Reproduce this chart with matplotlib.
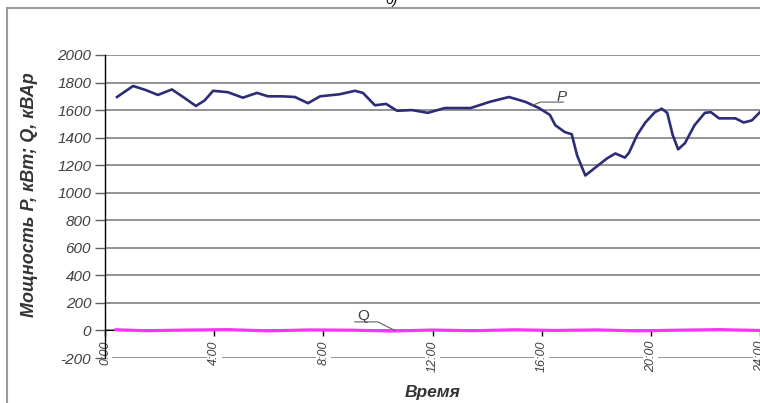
#!/usr/bin/env python3
"""Daily load curve P / Q (Excel-style scan)."""
import matplotlib
matplotlib.use('Agg')
import matplotlib.pyplot as plt
from matplotlib.patches import Rectangle

# --- data (hours, kW / kVAr) ---------------------------------------------
p_time = [0.44, 1.03, 1.5, 1.94, 2.45, 2.9, 3.33, 3.65, 3.96, 4.5, 5.05, 5.57,
          5.97, 6.5, 6.96, 7.44, 7.88, 8.6, 9.16, 9.45, 9.89, 10.3, 10.7, 11.25,
          11.83, 12.45, 13.4, 14.1, 14.8, 15.4, 15.9, 16.3, 16.5, 16.85, 17.1,
          17.3, 17.6, 17.95, 18.4, 18.7, 19.05, 19.2, 19.5, 19.8, 20.15, 20.4,
          20.6, 20.8, 21.0, 21.25, 21.6, 21.98, 22.2, 22.5, 23.1, 23.4, 23.7, 24.0]
p_val = [1695, 1775, 1745, 1710, 1750, 1690, 1630, 1670, 1740, 1730, 1690, 1725,
         1700, 1700, 1695, 1650, 1700, 1715, 1740, 1725, 1635, 1645, 1595, 1600,
         1580, 1615, 1615, 1660, 1695, 1660, 1615, 1565, 1490, 1440, 1425,
         1270, 1125, 1180, 1250, 1285, 1255, 1290, 1420, 1510, 1585, 1610,
         1580, 1420, 1315, 1360, 1490, 1580, 1585, 1540, 1540, 1510, 1525, 1585]

q_time = [0.4, 1.5, 3.0, 4.5, 6.0, 7.5, 9.0, 10.5, 12.0, 13.5, 15.0, 16.5,
          18.0, 19.5, 21.0, 22.5, 24.0]
q_val = [5, -2, 3, 6, -3, 4, 2, -4, 3, -2, 5, 0, 4, -3, 2, 6, 0]

yticks = [-200, 0, 200, 400, 600, 800, 1000, 1200, 1400, 1600, 1800, 2000]
xticks = [0, 4, 8, 12, 16, 20, 24]
xlabels = ['0:00', '4:00', '8:00', '12:00', '16:00', '20:00', '24:00']

plt.rcParams['font.family'] = ['Liberation Sans', 'DejaVu Sans']

fig = plt.figure(figsize=(7.6, 4.03), dpi=100)
fig.patch.set_facecolor('white')
# outer chart frame (cropped at right and bottom)
fig.patches.append(Rectangle((7/760, -0.1), 1.2, 1.1 - 8/403, transform=fig.transFigure,
                             fill=False, edgecolor='#9a9a9a', linewidth=1.5))
fig.text(0.515, 1.0, 'б)', ha='center', va='center', fontsize=10, style='italic')

ax = fig.add_axes([105/760, 1 - 358/403, 655/760, 303/403])
ax.set_xlim(0, 24)
ax.set_ylim(-200, 2000)

for v in yticks:
    ax.axhline(v, color='#808080', linewidth=1.2, zorder=1)

ax.plot(p_time, p_val, color='#2c2c78', linewidth=1.9, zorder=3, solid_joinstyle='round')
ax.plot(q_time, q_val, color='#ff33ff', linewidth=2.3, zorder=3)

# series labels with leader lines
ax.text(16.55, 1668, 'P', fontsize=11, style='italic', color='#404040', zorder=4)
ax.plot([15.68, 15.95, 16.8], [1636, 1658, 1658], color='#606060', linewidth=0.8, zorder=4)
ax.text(9.25, 78, 'Q', fontsize=11, color='#404040', zorder=4)
ax.plot([9.15, 10.0, 10.62], [62, 62, 0], color='#606060', linewidth=0.8, zorder=4)

ax.spines['top'].set_visible(False)
ax.spines['right'].set_visible(False)
ax.spines['bottom'].set_position(('data', 0))
ax.spines['bottom'].set_zorder(2)
ax.spines['left'].set_linewidth(1.0)

ax.set_yticks(yticks)
ax.set_yticklabels([str(v) for v in yticks], fontsize=11, style='italic', color='#404040')
ax.tick_params(axis='y', length=7, width=1.0, color='#606060', pad=3)

ax.set_xticks(xticks)
ax.set_xticklabels(xlabels, fontsize=9, style='italic', color='#404040',
                   rotation=90, va='top', ha='center')
ax.tick_params(axis='x', length=4, width=1.0, direction='out', pad=3)
for t in ax.get_xticklabels():
    t.set_bbox(dict(facecolor='white', edgecolor='none', pad=1))
    t.set_zorder(5)

fig.text(30/760, 1 - 195/403, 'Мощность P, кВт; Q, кВАр', rotation=90, ha='center', va='center',
         fontsize=13, fontweight='bold', style='italic', color='#333333')
fig.text(433/760, 1 - 392/403, 'Время', ha='center', va='center',
         fontsize=12.5, fontweight='bold', style='italic', color='#333333')

plt.savefig('out.png', dpi=100)
